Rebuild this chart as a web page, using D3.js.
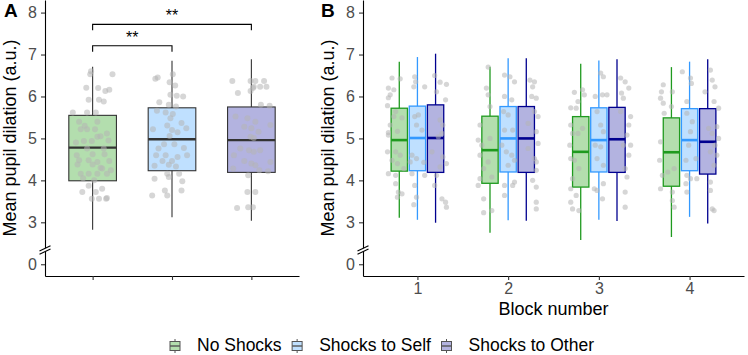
<!DOCTYPE html>
<html>
<head>
<meta charset="utf-8">
<script src="https://cdn.jsdelivr.net/npm/d3@7"></script>
<style>
  body { margin: 0; background: #fff; }
  svg { font-family: "Liberation Sans", Arial, sans-serif; }
  .axis path, .axis line { stroke: #000; stroke-width: 1.1; }
  .axis .tick line { stroke: #333; }
  .axis text { fill: #4d4d4d; font-size: 16px; }
  .title { font-size: 18px; fill: #000; }
  .panel-label { font-size: 19px; font-weight: bold; }
  .dot { fill: #b5b5b5; opacity: 0.55; }
</style>
</head>
<body>
<svg id="chart" width="748" height="355"></svg>
<script>
const conditions = ["No Shocks", "Shocks to Self", "Shocks to Other"];
const blocks = ["1", "2", "3", "4"];
const yTickValues = [0, 3, 4, 5, 6, 7, 8];

// [lower whisker, Q1, median, Q3, upper whisker]
const boxA = [
  [2.82, 3.99, 4.78, 5.55, 6.71],
  [3.12, 4.23, 4.98, 5.73, 6.85],
  [3.04, 4.19, 4.96, 5.75, 6.89]
];
const noShocksB = [
  [3.11, 4.22, 4.96, 5.72, 6.83],
  [2.75, 3.93, 4.72, 5.53, 6.71],
  [2.58, 3.84, 4.68, 5.52, 6.78],
  [2.65, 3.86, 4.67, 5.49, 6.70]
];
const selfB = [
  [3.06, 4.23, 5.01, 5.77, 6.94],
  [3.05, 4.20, 5.00, 5.76, 6.91],
  [3.06, 4.20, 4.96, 5.73, 6.86],
  [3.13, 4.23, 4.96, 5.71, 6.83]
];
const otherB = [
  [2.99, 4.19, 5.01, 5.80, 7.02],
  [3.04, 4.19, 5.00, 5.76, 6.91],
  [3.03, 4.19, 4.98, 5.74, 6.89],
  [2.97, 4.15, 4.92, 5.71, 6.89]
];

// jittered participants: [offset in category steps, value]
const pointsANoShocks = [[0.25,6.53],[-0.03,6.53],[-0.02,6.6],[-0.08,6.21],[0.07,6.20],[0.16,6.13],[0.21,6.16],[-0.05,5.92],
  [0.08,5.92],[0.14,5.88],[-0.25,5.62],[-0.07,5.62],[0.04,5.62],[-0.17,5.40],[0.06,5.40],[-0.1,5.3],[-0.15,5.22],[-0.07,5.22],
  [0.03,5.22],[0.18,5.12],[0.06,5.04],[0.1,5.05],[-0.21,4.90],[-0.11,4.94],[-0.01,4.94],[0.2,4.95],[-0.07,4.76],[0.14,4.76],
  [-0.2,4.6],[0.15,4.62],[0.0,4.62],[-0.17,4.48],[-0.05,4.48],[0.06,4.44],[0.21,4.46],[-0.19,4.38],[0,4.38],[0.12,4.28],
  [0.1,4.3],[0.23,4.24],[-0.15,4.16],[-0.05,4.16],[0.06,4.16],[0.18,4.16],[-0.12,4.05],[0.02,4.00],[-0.13,3.72],[-0.05,3.87],
  [0.04,3.72],[0.12,3.80],[-0.01,3.56],[0.08,3.56],[0.17,3.56],[0.18,3.58]];
const pointsASelf = [[0.01,6.53],[-0.21,6.42],[-0.18,6.45],[-0.03,6.34],[0.04,6.26],[-0.02,6.04],[0.06,6.02],[0.14,6.00],
  [-0.16,5.86],[-0.04,5.80],[0.05,5.76],[-0.19,5.66],[-0.08,5.62],[0.01,5.58],[-0.02,5.48],[-0.06,5.31],[0.12,5.37],
  [-0.24,5.22],[0.0,5.20],[0.07,5.15],[0.18,5.24],[-0.03,5.06],[-0.1,4.86],[0.03,4.86],[-0.17,4.76],[0.15,4.77],[-0.2,4.60],
  [-0.08,4.60],[0.07,4.56],[0.19,4.60],[-0.12,4.46],[0.0,4.46],[-0.22,4.35],[-0.04,4.37],[0.05,4.33],[-0.06,4.16],[0.09,4.16],
  [-0.04,4.08],[-0.22,4.04],[0.13,3.98],[-0.09,3.76],[0.12,3.76],[-0.25,3.64],[-0.06,3.64]];
const pointsAOther = [[-0.24,6.37],[-0.01,6.37],[0.05,6.37],[0.16,6.37],[0.03,6.23],[0.11,6.23],[0.19,6.23],[-0.17,6.08],
  [-0.01,6.13],[0.02,6.20],[0.12,5.80],[0.23,5.78],[-0.2,5.52],[-0.05,5.48],[0.05,5.40],[0.24,5.32],[-0.09,5.28],[0.0,5.24],
  [0.09,5.16],[-0.01,5.04],[0.03,5.01],[-0.14,4.76],[-0.03,4.72],[0.03,4.68],[0.11,4.72],[-0.22,4.60],[-0.09,4.46],[0.0,4.40],
  [0.05,4.36],[0.24,4.44],[-0.23,4.28],[0.1,4.24],[0.21,4.22],[-0.04,4.12],[-0.05,3.72],[0.05,3.72],[-0.18,3.34],[-0.04,3.36],
  [0.02,3.36]];
const pointsB1 = [[-0.28,6.44],[-0.19,6.42],[-0.32,6.20],[-0.26,6.16],[-0.30,6.04],[-0.32,5.97],[-0.33,5.78],[-0.03,6.47],
  [-0.02,6.35],[-0.04,6.23],[0.08,6.23],[0.19,6.50],[0.25,6.34],[0.32,6.29],[0.21,6.11],[0.31,5.92],[-0.24,5.64],[-0.26,5.52],
  [-0.17,5.49],[-0.30,5.32],[-0.32,5.14],[-0.22,5.17],[-0.32,5.08],[-0.03,5.52],[0.01,5.56],[-0.01,5.32],[0.05,5.20],
  [0.25,5.44],[0.28,5.32],[0.27,5.12],[0.23,5.04],[-0.33,4.68],[-0.24,4.68],[-0.19,4.60],[-0.28,4.48],[-0.22,4.40],
  [-0.06,4.60],[-0.01,4.52],[-0.08,4.44],[0.07,4.43],[0.16,4.68],[0.28,4.56],[0.32,4.40],[0.25,4.32],[-0.32,4.16],
  [-0.24,4.12],[-0.15,4.28],[-0.06,4.16],[0.08,4.12],[0.21,4.12],[-0.24,3.92],[-0.21,3.72],[-0.17,3.68],[-0.03,3.88],
  [-0.01,3.60],[0.19,3.88],[0.27,3.56],[0.31,3.48],[0.32,3.36],[-0.22,3.60],[-0.04,3.42]];
const pointsB2 = [[-0.22,6.70],[-0.24,6.20],[-0.22,6.04],[-0.20,5.76],[-0.31,5.32],[-0.33,4.96],[-0.20,5.00],[-0.29,4.84],
  [-0.31,4.60],[-0.22,4.44],[-0.27,4.28],[-0.31,4.04],[-0.33,3.88],[-0.18,4.08],[-0.27,3.56],[-0.27,3.23],[-0.18,3.28],
  [-0.04,6.51],[0.02,6.47],[0.07,6.35],[-0.04,6.00],[0.04,5.92],[-0.05,5.64],[0.0,5.56],[-0.04,5.20],[0.05,5.20],
  [-0.07,4.84],[-0.02,4.68],[0.04,4.60],[0.07,4.48],[0.0,4.36],[-0.04,3.88],[0.07,3.96],[0.05,3.88],[-0.04,3.64],
  [0.24,6.39],[0.29,6.35],[0.27,6.23],[0.26,6.00],[0.31,5.96],[0.29,5.64],[0.33,5.52],[0.22,5.36],[0.31,5.16],[0.33,4.88],
  [0.22,4.76],[0.29,4.52],[0.31,4.44],[0.31,4.24],[0.27,4.00],[0.31,3.84],[0.31,3.48],[0.31,3.32]];
const pointsB3 = [[-0.18,6.16],[-0.16,6.04],[-0.27,6.10],[-0.31,5.73],[-0.25,5.72],[-0.23,5.88],[-0.31,5.32],[-0.29,5.12],
  [-0.23,5.12],[-0.18,5.24],[-0.32,4.84],[-0.31,4.52],[-0.27,4.48],[-0.22,4.28],[-0.29,4.04],[-0.31,3.80],[-0.25,3.64],
  [-0.31,3.48],[-0.29,3.32],[-0.22,3.28],[0.02,6.56],[0.05,6.47],[-0.04,6.00],[0.04,6.04],[0.09,6.04],[-0.02,5.64],
  [0.02,5.32],[0.05,5.16],[-0.04,4.84],[0.02,4.80],[-0.02,4.52],[0.05,4.36],[-0.05,3.80],[-0.02,3.76],[0.05,3.92],
  [0.04,3.56],[0.24,6.44],[0.29,6.35],[0.33,6.20],[0.25,6.08],[0.27,5.96],[0.35,5.52],[0.33,5.32],[0.31,5.08],[0.35,4.84],
  [0.33,4.60],[0.29,4.28],[0.31,4.08],[0.29,3.72],[0.29,3.36],[0.24,5.64],[0.27,4.84]];
const pointsB4 = [[-0.29,6.28],[-0.31,6.11],[-0.32,5.96],[-0.29,5.84],[-0.28,5.60],[-0.19,6.11],[-0.20,5.76],[-0.32,4.92],
  [-0.33,4.48],[-0.30,4.12],[-0.32,3.80],[-0.24,4.20],[-0.17,4.28],[-0.19,3.72],[-0.19,3.52],[-0.17,3.36],[-0.08,6.59],
  [0.01,6.44],[0.02,6.31],[-0.03,5.88],[-0.03,5.60],[0.03,5.40],[0.01,5.16],[-0.01,4.84],[-0.04,4.48],[0.07,4.52],
  [-0.03,4.12],[0.01,4.04],[0.08,4.04],[-0.04,3.92],[-0.03,3.72],[0.23,6.63],[0.25,6.39],[0.28,6.23],[0.17,6.11],
  [0.27,5.88],[0.32,5.72],[0.30,5.28],[0.25,5.12],[0.32,5.00],[0.28,4.84],[0.23,4.68],[0.30,4.60],[0.27,4.36],[0.23,3.96],
  [0.23,3.76],[0.25,3.32],[0.27,3.28],[0.21,5.24]];

// significance brackets in panel A
const comparisons = [
  {from: 0, to: 1, label: "**", y: 7.21},
  {from: 0, to: 2, label: "**", y: 7.72}
];

const fillColors = ["#b3deae", "#bfe0ff", "#b3b3e0"];
const lineColorsB = ["#1f9a1f", "#3399ff", "#00008f"];

const svg = d3.select("#chart");
const plotBottom = 276;
// axis break: a value of 0 is drawn one unit below 3
const yPos = v => v === 0 ? 2 : v;

function makeY() {
  return d3.scaleLinear().domain([1.72, 8.3]).range([plotBottom, 0]);
}

function drawYAxis(x0, y) {
  const g = svg.append("g")
    .attr("class", "axis")
    .attr("transform", `translate(${x0},0)`)
    .call(d3.axisLeft(y)
      .tickValues(yTickValues.map(yPos))
      .tickFormat((d, i) => yTickValues[i])
      .tickSize(4)
      .tickSizeOuter(0)
      .tickPadding(4));
  // break marks
  const yb = y(2.34);
  g.append("polygon")
    .attr("points", `-5,${yb + 4} 5,${yb - 1} 5,${yb - 4} -5,${yb + 1}`)
    .attr("fill", "#fff");
  [-1.6, 1.6].forEach(o => {
    g.append("line")
      .attr("x1", -5.5).attr("y1", yb + 2.6 + o)
      .attr("x2", 5.5).attr("y2", yb - 2.6 + o)
      .attr("stroke", "#000").attr("stroke-width", 1.1);
  });
}

function drawBox(g, cx, w, s, y, fill, stroke, lw, mw) {
  g.append("line")
    .attr("x1", cx).attr("x2", cx)
    .attr("y1", y(s[0])).attr("y2", y(s[4]))
    .attr("stroke", stroke).attr("stroke-width", lw);
  g.append("rect")
    .attr("x", cx - w / 2).attr("width", w)
    .attr("y", y(s[3])).attr("height", y(s[1]) - y(s[3]))
    .attr("fill", fill).attr("stroke", stroke).attr("stroke-width", lw);
  g.append("line")
    .attr("x1", cx - w / 2).attr("x2", cx + w / 2)
    .attr("y1", y(s[2])).attr("y2", y(s[2]))
    .attr("stroke", stroke).attr("stroke-width", mw);
}

// ---- panel A ----
const xA = d3.scalePoint().domain(conditions).range([45, 299]).padding(0.6);
const yA = makeY();
const gA = svg.append("g");

conditions.forEach((c, i) => {
  drawBox(gA, xA(c), xA.step() * 0.6, boxA[i], yA, fillColors[i], "#333", 1.1, 2.4);
});

[pointsANoShocks, pointsASelf, pointsAOther].forEach((pts, i) => {
  gA.append("g")
    .selectAll("circle")
    .data(pts)
    .enter()
    .append("circle")
      .attr("class", "dot")
      .attr("cx", d => xA(conditions[i]) + d[0] * xA.step())
      .attr("cy", d => yA(d[1]))
      .attr("r", 3);
});

svg.append("g")
  .attr("class", "axis")
  .attr("transform", `translate(0,${plotBottom})`)
  .call(d3.axisBottom(xA).tickSize(4).tickSizeOuter(0).tickFormat(""));
drawYAxis(45, yA);

comparisons.forEach(cmp => {
  const x1 = xA(conditions[cmp.from]), x2 = xA(conditions[cmp.to]);
  const yy = yA(cmp.y);
  gA.append("path")
    .attr("d", `M${x1},${yy + 6}V${yy}H${x2}V${yy + 6}`)
    .attr("fill", "none").attr("stroke", "#000").attr("stroke-width", 1.1);
  gA.append("text")
    .attr("x", (x1 + x2) / 2).attr("y", yy - 3)
    .attr("text-anchor", "middle")
    .style("font-size", "16px")
    .text(cmp.label);
});

svg.append("text")
  .attr("class", "title")
  .attr("text-anchor", "middle")
  .attr("transform", `translate(15.5,138) rotate(-90)`)
  .text("Mean pupil dilation (a.u.)");
svg.append("text").attr("class", "panel-label").attr("x", 4).attr("y", 17).text("A");

// ---- panel B ----
const xB = d3.scalePoint().domain(blocks).range([363, 744]).padding(0.6);
const yB = makeY();
const gB = svg.append("g");
const dodge = xB.step() * 0.2;

[noShocksB, selfB, otherB].forEach((series, i) => {
  series.forEach((s, b) => {
    drawBox(gB, xB(blocks[b]) + (i - 1) * dodge, dodge * 0.9, s, yB,
      fillColors[i], lineColorsB[i], 1.3, 2.6);
  });
});

[pointsB1, pointsB2, pointsB3, pointsB4].forEach((pts, b) => {
  gB.append("g")
    .selectAll("circle")
    .data(pts)
    .enter()
    .append("circle")
      .attr("class", "dot")
      .attr("cx", d => xB(blocks[b]) + d[0] * xB.step())
      .attr("cy", d => yB(d[1]))
      .attr("r", 2.6);
});

svg.append("g")
  .attr("class", "axis")
  .attr("transform", `translate(0,${plotBottom})`)
  .call(d3.axisBottom(xB).tickSize(4).tickSizeOuter(0).tickPadding(3));
drawYAxis(363, yB);

svg.append("text")
  .attr("class", "title")
  .attr("text-anchor", "middle")
  .attr("transform", `translate(334,138) rotate(-90)`)
  .text("Mean pupil dilation (a.u.)");
svg.append("text")
  .attr("class", "title")
  .attr("text-anchor", "middle")
  .attr("x", (363 + 744) / 2).attr("y", 315)
  .text("Block number");
svg.append("text").attr("class", "panel-label").attr("x", 321).attr("y", 17).text("B");

// ---- legend ----
const legend = svg.append("g");
let lx = 170;
conditions.forEach((c, i) => {
  const k = legend.append("g").attr("transform", `translate(${lx},0)`);
  k.append("line").attr("x1", 5).attr("x2", 5).attr("y1", 339).attr("y2", 353)
    .attr("stroke", "#555").attr("stroke-width", 1);
  k.append("rect").attr("x", 0).attr("y", 341.5).attr("width", 10).attr("height", 9)
    .attr("fill", fillColors[i]).attr("stroke", "#555").attr("stroke-width", 1);
  k.append("line").attr("x1", 0).attr("x2", 10).attr("y1", 346).attr("y2", 346)
    .attr("stroke", "#555").attr("stroke-width", 1.4);
  const t = legend.append("text")
    .attr("x", lx + 27).attr("y", 351)
    .style("font-size", "17.5px")
    .text(c);
  lx += 27 + t.node().getComputedTextLength() + 10.5;
});
</script>
</body>
</html>
